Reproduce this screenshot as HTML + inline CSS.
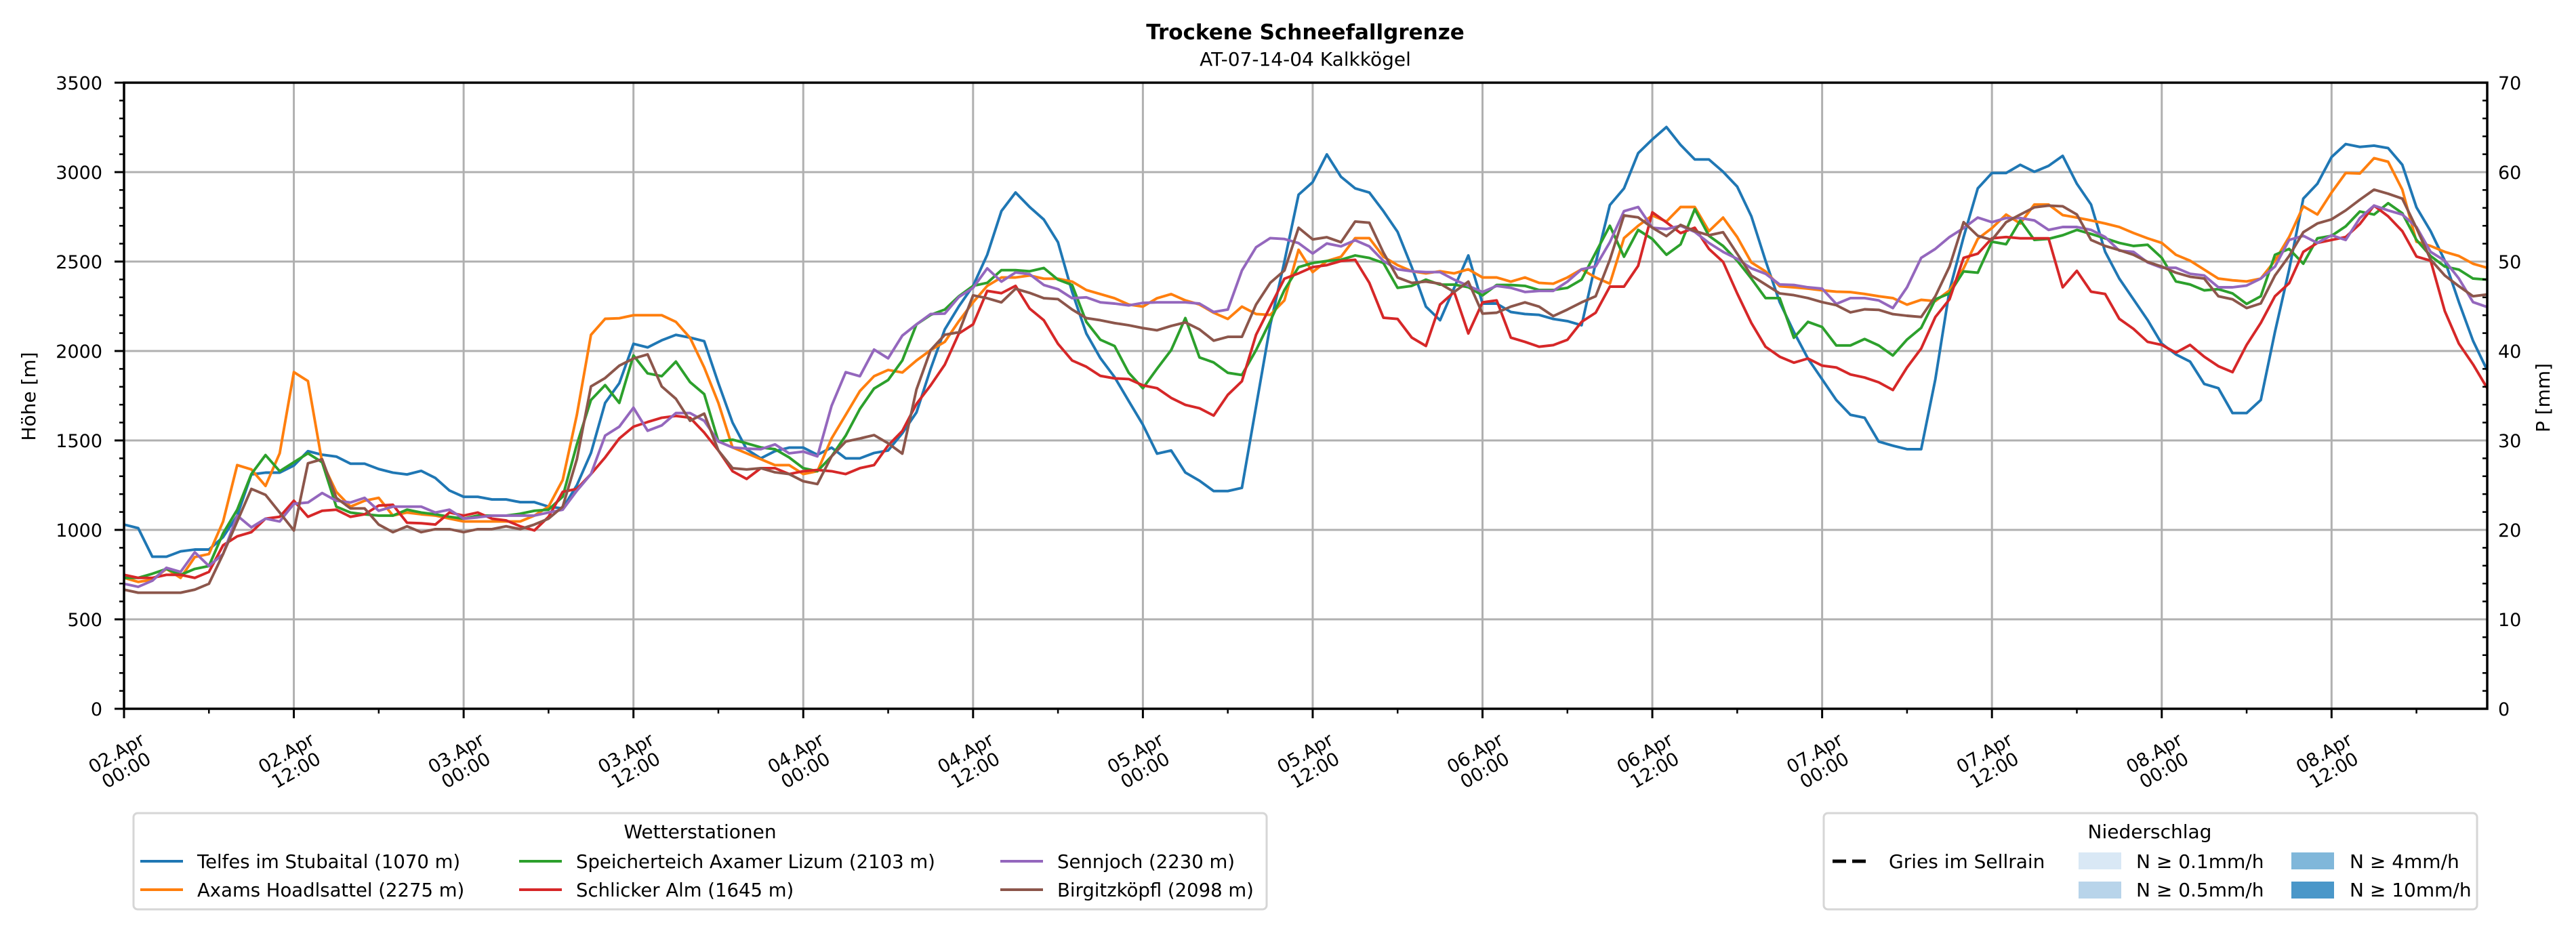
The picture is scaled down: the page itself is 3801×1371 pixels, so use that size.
<!DOCTYPE html>
<html><head><meta charset="utf-8"><style>
html,body{margin:0;padding:0;background:#fff;}
svg{display:block;font-family:"DejaVu Sans","Liberation Sans",sans-serif;}
</style></head><body>
<svg id="chart" xmlns="http://www.w3.org/2000/svg" width="3801" height="1371" viewBox="0 0 3801 1371">
<rect width="3801" height="1371" fill="#fff"/>
<text x="1926" y="58" text-anchor="middle" font-size="31" font-weight="bold">Trockene Schneefallgrenze</text>
<text x="1926" y="97" text-anchor="middle" font-size="28">AT-07-14-04 Kalkkögel</text>
<g id="grid"></g>
<g id="series"></g>
<g id="axes"></g>
<text transform="translate(52,585) rotate(-90)" text-anchor="middle" font-size="28">Höhe [m]</text>
<text transform="translate(3762,587) rotate(-90)" text-anchor="middle" font-size="28">P [mm]</text>
<g>
<rect x="197" y="1200" width="1672" height="142" rx="6" fill="#fff" stroke="#d6d6d6" stroke-width="3"/>
<text x="1033" y="1237" text-anchor="middle" font-size="28">Wetterstationen</text>
<g id="legend1"></g>
</g>
<g>
<rect x="2691" y="1200" width="964" height="142" rx="6" fill="#fff" stroke="#d6d6d6" stroke-width="3"/>
<text x="3172" y="1237" text-anchor="middle" font-size="28">Niederschlag</text>
<line x1="2704" y1="1271" x2="2760" y2="1271" stroke="#000" stroke-width="5" stroke-dasharray="20,9"/>
<text x="2787" y="1281" font-size="28">Gries im Sellrain</text>
<rect x="3067" y="1258" width="63" height="25" fill="#d9e8f5"/>
<text x="3152" y="1281" font-size="28">N ≥ 0.1mm/h</text>
<rect x="3067" y="1301" width="63" height="25" fill="#b8d4ea"/>
<text x="3152" y="1323" font-size="28">N ≥ 0.5mm/h</text>
<rect x="3381" y="1258" width="63" height="25" fill="#80b7da"/>
<text x="3467" y="1281" font-size="28">N ≥ 4mm/h</text>
<rect x="3381" y="1301" width="63" height="25" fill="#4a97c9"/>
<text x="3467" y="1323" font-size="28">N ≥ 10mm/h</text>
</g>
</svg>
<script>
const hours = Array.from({length:168},(_, i)=>i);
const stationNames = ["Telfes im Stubaital (1070 m)","Axams Hoadlsattel (2275 m)","Speicherteich Axamer Lizum (2103 m)","Schlicker Alm (1645 m)","Sennjoch (2230 m)","Birgitzköpfl (2098 m)"];
const stationColors = ["#1f77b4","#ff7f0e","#2ca02c","#d62728","#9467bd","#8c564b"];
const telfes = [1030,1010,850,850,880,890,890,960,1080,1310,1320,1320,1360,1440,1420,1410,1370,1370,1340,1320,1310,1330,1290,1220,1185,1185,1170,1170,1155,1155,1130,1120,1250,1430,1710,1820,2040,2020,2060,2090,2075,2055,1820,1600,1450,1400,1440,1460,1460,1420,1460,1400,1400,1430,
1444,1540,1657,1900,2121,2250,2364,2538,2782,2886,2805,2735,2608,2330,2098,1960,1854,1720,1588,1426,1444,1321,1275,1217,1217,1235,1690,2144,2500,2874,2944,3099,2974,2909,2886,2782,2666,2469,2248,2172,2353,2534,2265,2265,2218,2207,2202,2179,2167,2144,2492,2816,2909,3106,3183,3252,3152,3071,
3071,3002,2919,2753,2505,2273,2107,1958,1842,1726,1643,1627,1494,1471,1451,1451,1842,2339,2637,2909,2995,2995,3041,3002,3035,3091,2935,2819,2555,2405,2289,2173,2041,1981,1941,1816,1792,1653,1653,1726,2107,2455,2852,2935,3084,3157,3141,3148,3134,3041,2803,2670,2505,2273,2057,1892];
const axams = [732,709,722,782,732,848,865,1047,1362,1338,1246,1428,1882,1832,1378,1213,1130,1163,1179,1080,1097,1087,1080,1063,1047,1047,1047,1047,1047,1080,1130,1279,1643,2090,2180,2183,2200,2200,2200,2163,2074,1908,1710,1461,1428,1395,1362,1362,1312,1328,1511,1643,1776,1859,
1894,1880,1947,2005,2051,2167,2272,2364,2411,2411,2422,2404,2404,2388,2341,2318,2295,2260,2248,2295,2318,2283,2260,2214,2179,2248,2207,2202,2283,2566,2441,2503,2527,2631,2631,2527,2480,2446,2434,2446,2434,2457,2411,2411,2388,2411,2381,2376,2411,2457,2411,2376,2631,2700,2758,2724,2805,2805,
2670,2746,2637,2495,2445,2362,2356,2349,2339,2332,2329,2319,2306,2296,2259,2286,2279,2339,2462,2627,2687,2763,2713,2819,2819,2760,2746,2730,2713,2693,2660,2630,2604,2538,2505,2455,2405,2395,2389,2405,2505,2637,2809,2763,2886,2995,2992,3078,3058,2902,2611,2587,2554,2531,2488,2465];
const speicherteich = [732,732,755,782,749,782,798,981,1113,1312,1418,1328,1378,1428,1378,1130,1097,1087,1080,1080,1113,1097,1087,1073,1063,1080,1080,1080,1090,1107,1113,1186,1478,1726,1809,1710,1975,1875,1859,1941,1826,1759,1494,1504,1484,1461,1451,1405,1345,1328,1411,1527,1676,1790,
1838,1947,2149,2202,2232,2306,2364,2381,2452,2452,2446,2464,2399,2369,2163,2063,2028,1878,1792,1901,2005,2184,1964,1936,1878,1866,2005,2167,2341,2469,2492,2503,2510,2534,2520,2492,2353,2364,2399,2371,2371,2357,2311,2369,2369,2364,2341,2341,2353,2399,2550,2700,2527,2677,2626,2538,2596,2793,
2644,2587,2505,2405,2296,2296,2074,2163,2134,2031,2031,2067,2031,1975,2064,2130,2289,2322,2445,2438,2611,2597,2730,2621,2627,2647,2677,2654,2630,2604,2587,2594,2521,2389,2372,2339,2346,2322,2263,2306,2538,2571,2488,2630,2644,2697,2780,2763,2826,2770,2621,2531,2472,2455,2405,2399];
const schlicker = [749,732,732,749,749,732,765,914,964,987,1063,1073,1163,1073,1107,1113,1073,1087,1136,1140,1040,1037,1030,1097,1080,1097,1063,1053,1020,997,1073,1213,1229,1312,1405,1511,1577,1603,1627,1637,1627,1544,1444,1328,1285,1345,1345,1312,1328,1335,1328,1312,1345,1362,
1472,1553,1704,1808,1924,2098,2149,2336,2323,2364,2237,2172,2040,1947,1912,1861,1847,1843,1808,1792,1738,1699,1680,1639,1755,1831,2091,2248,2404,2434,2469,2480,2503,2510,2381,2186,2179,2075,2028,2260,2330,2098,2272,2283,2075,2051,2024,2033,2063,2163,2214,2360,2360,2476,2775,2719,2659,2689,
2571,2498,2322,2157,2024,1968,1935,1958,1918,1908,1869,1852,1825,1782,1908,2014,2190,2289,2521,2544,2630,2637,2630,2630,2630,2356,2448,2332,2319,2180,2124,2051,2034,1991,2034,1968,1915,1882,2034,2157,2306,2379,2554,2604,2621,2637,2710,2813,2753,2670,2528,2505,2223,2041,1925,1792];
const sennjoch = [699,682,716,788,765,875,798,865,1080,1014,1063,1047,1146,1153,1206,1163,1153,1179,1107,1130,1130,1130,1097,1113,1063,1070,1080,1080,1080,1080,1097,1113,1219,1312,1527,1577,1683,1554,1584,1653,1653,1610,1494,1461,1454,1451,1478,1428,1438,1411,1693,1882,1859,2008,
1959,2086,2149,2207,2209,2302,2353,2462,2388,2439,2429,2369,2346,2295,2300,2272,2265,2255,2269,2272,2272,2272,2265,2218,2232,2450,2580,2631,2626,2603,2545,2601,2585,2619,2585,2503,2457,2446,2441,2441,2399,2364,2330,2364,2353,2330,2336,2336,2388,2457,2473,2608,2782,2805,2689,2682,2700,2666,
2604,2554,2515,2462,2432,2372,2369,2356,2349,2263,2296,2296,2283,2240,2356,2521,2571,2637,2687,2746,2720,2743,2743,2730,2677,2693,2693,2677,2637,2561,2554,2495,2465,2465,2432,2422,2356,2356,2366,2405,2472,2621,2644,2604,2647,2621,2743,2813,2786,2763,2693,2554,2505,2405,2273,2246];
const birgitzkoepfl = [666,649,649,649,649,666,699,865,1047,1229,1196,1097,997,1372,1395,1179,1120,1120,1030,987,1020,987,1004,1004,987,1004,1004,1020,1004,1030,1063,1130,1395,1802,1849,1918,1958,1981,1802,1733,1610,1650,1444,1345,1338,1345,1322,1312,1272,1256,1411,1494,1511,1530,
1484,1426,1785,2005,2091,2105,2311,2295,2272,2348,2325,2295,2290,2232,2184,2172,2156,2144,2128,2116,2140,2160,2121,2058,2079,2079,2260,2381,2450,2689,2624,2636,2608,2724,2717,2550,2411,2381,2388,2376,2330,2388,2209,2214,2248,2272,2248,2195,2232,2272,2306,2510,2758,2747,2689,2642,2705,2671,
2647,2664,2544,2422,2372,2322,2312,2296,2273,2256,2216,2233,2230,2206,2197,2190,2306,2472,2720,2644,2621,2720,2763,2803,2813,2809,2763,2621,2587,2564,2538,2498,2472,2438,2415,2405,2306,2289,2240,2266,2422,2531,2664,2713,2736,2786,2846,2902,2879,2852,2687,2511,2422,2362,2306,2316];
const yTicks = [0,500,1000,1500,2000,2500,3000,3500];
const y2Ticks = [0,10,20,30,40,50,60,70];
const xTickLabels = [["02.Apr","00:00"],["02.Apr","12:00"],["03.Apr","00:00"],["03.Apr","12:00"],["04.Apr","00:00"],["04.Apr","12:00"],["05.Apr","00:00"],["05.Apr","12:00"],["06.Apr","00:00"],["06.Apr","12:00"],["07.Apr","00:00"],["07.Apr","12:00"],["08.Apr","00:00"],["08.Apr","12:00"]];

const NS="http://www.w3.org/2000/svg";
const X0=183,X1=3670,Y0=1046,Y1=122,HMAX=167,VMAX=3500;
function xs(h){return X0+h*(X1-X0)/HMAX;}
function ys(v){return Y0-v*(Y0-Y1)/VMAX;}
function mk(tag,attrs,parent){const e=document.createElementNS(NS,tag);for(const k in attrs)e.setAttribute(k,attrs[k]);parent.appendChild(e);return e;}
const grid=document.getElementById('grid'),axes=document.getElementById('axes'),ser=document.getElementById('series');

yTicks.forEach(v=>{
  if(v>0&&v<VMAX){const g=mk('line',{x1:X0,x2:X1,y1:ys(v),y2:ys(v),stroke:'#b0b0b0','stroke-width':3},grid);
  
  }
  const t=mk('line',{x1:X0-14,x2:X0,y1:ys(v),y2:ys(v),stroke:'#000','stroke-width':3},axes);
  
  
  const l=mk('text',{x:X0-32,y:ys(v)+10,'text-anchor':'end','font-size':27},axes);
  l.textContent=v;
  
  
});
for(let v=100;v<VMAX;v+=100){if(v%500===0)continue;
  const t=mk('line',{x1:X0-7,x2:X0,y1:ys(v),y2:ys(v),stroke:'#000','stroke-width':2.5},axes);
  
  
  const t2=mk('line',{x1:X1-7,x2:X1,y1:ys(v),y2:ys(v),stroke:'#000','stroke-width':2.5},axes);
  
  
}
y2Ticks.forEach(p=>{
  const v=p*VMAX/70;
  const l=mk('text',{x:3686,y:ys(v)+10,'font-size':27},axes);
  l.textContent=p;
  
  
});
xTickLabels.forEach((lab,i)=>{
  const h=i*12,x=xs(h);
  if(i>0){const g=mk('line',{x1:x,x2:x,y1:Y1,y2:Y0,stroke:'#b0b0b0','stroke-width':3},grid);
  
  }
  const t=mk('line',{x1:x,x2:x,y1:Y0,y2:Y0+14,stroke:'#000','stroke-width':3},axes);
  
  
  const m=mk('line',{x1:xs(h+6),x2:xs(h+6),y1:Y0,y2:Y0+7,stroke:'#000','stroke-width':2.5},axes);
  
  
  const tx=mk('text',{transform:'translate('+(x-4)+',1124) rotate(-30)','text-anchor':'middle','font-size':27},axes);
  
  
  const a=mk('tspan',{x:0,y:-5},tx);a.textContent=lab[0];
  const b=mk('tspan',{x:0,y:24},tx);b.textContent=lab[1];
});
const frame=mk('rect',{x:X0,y:Y1,width:X1-X0,height:Y0-Y1,fill:'none',stroke:'#000','stroke-width':3.5},axes);



const allSeries=[telfes,axams,speicherteich,schlicker,sennjoch,birgitzkoepfl];
const seriesKeys=['telfes','axams','speicherteich','schlicker','sennjoch','birgitzkoepfl'];
allSeries.forEach((vals,si)=>{
  const d=vals.map((v,i)=>(i?'L':'M')+xs(hours[i]).toFixed(1)+','+ys(v).toFixed(1)).join('');
  const p=mk('path',{d:d,fill:'none',stroke:stationColors[si],'stroke-width':3.9,'stroke-linejoin':'round'},ser);
  
  
});
const leg=document.getElementById('legend1');
const colX=[207,766,1476];
stationNames.forEach((n,i)=>{
  const c=Math.floor(i/2),r=i%2,y=1271+r*42;
  const ln=mk('line',{x1:colX[c],x2:colX[c]+63,y1:y,y2:y,stroke:stationColors[i],'stroke-width':4},leg);
  
  
  const t=mk('text',{x:colX[c]+84,y:y+10,'font-size':27.5},leg);
  t.textContent=n;
  
  
});
</script>
</body></html>
